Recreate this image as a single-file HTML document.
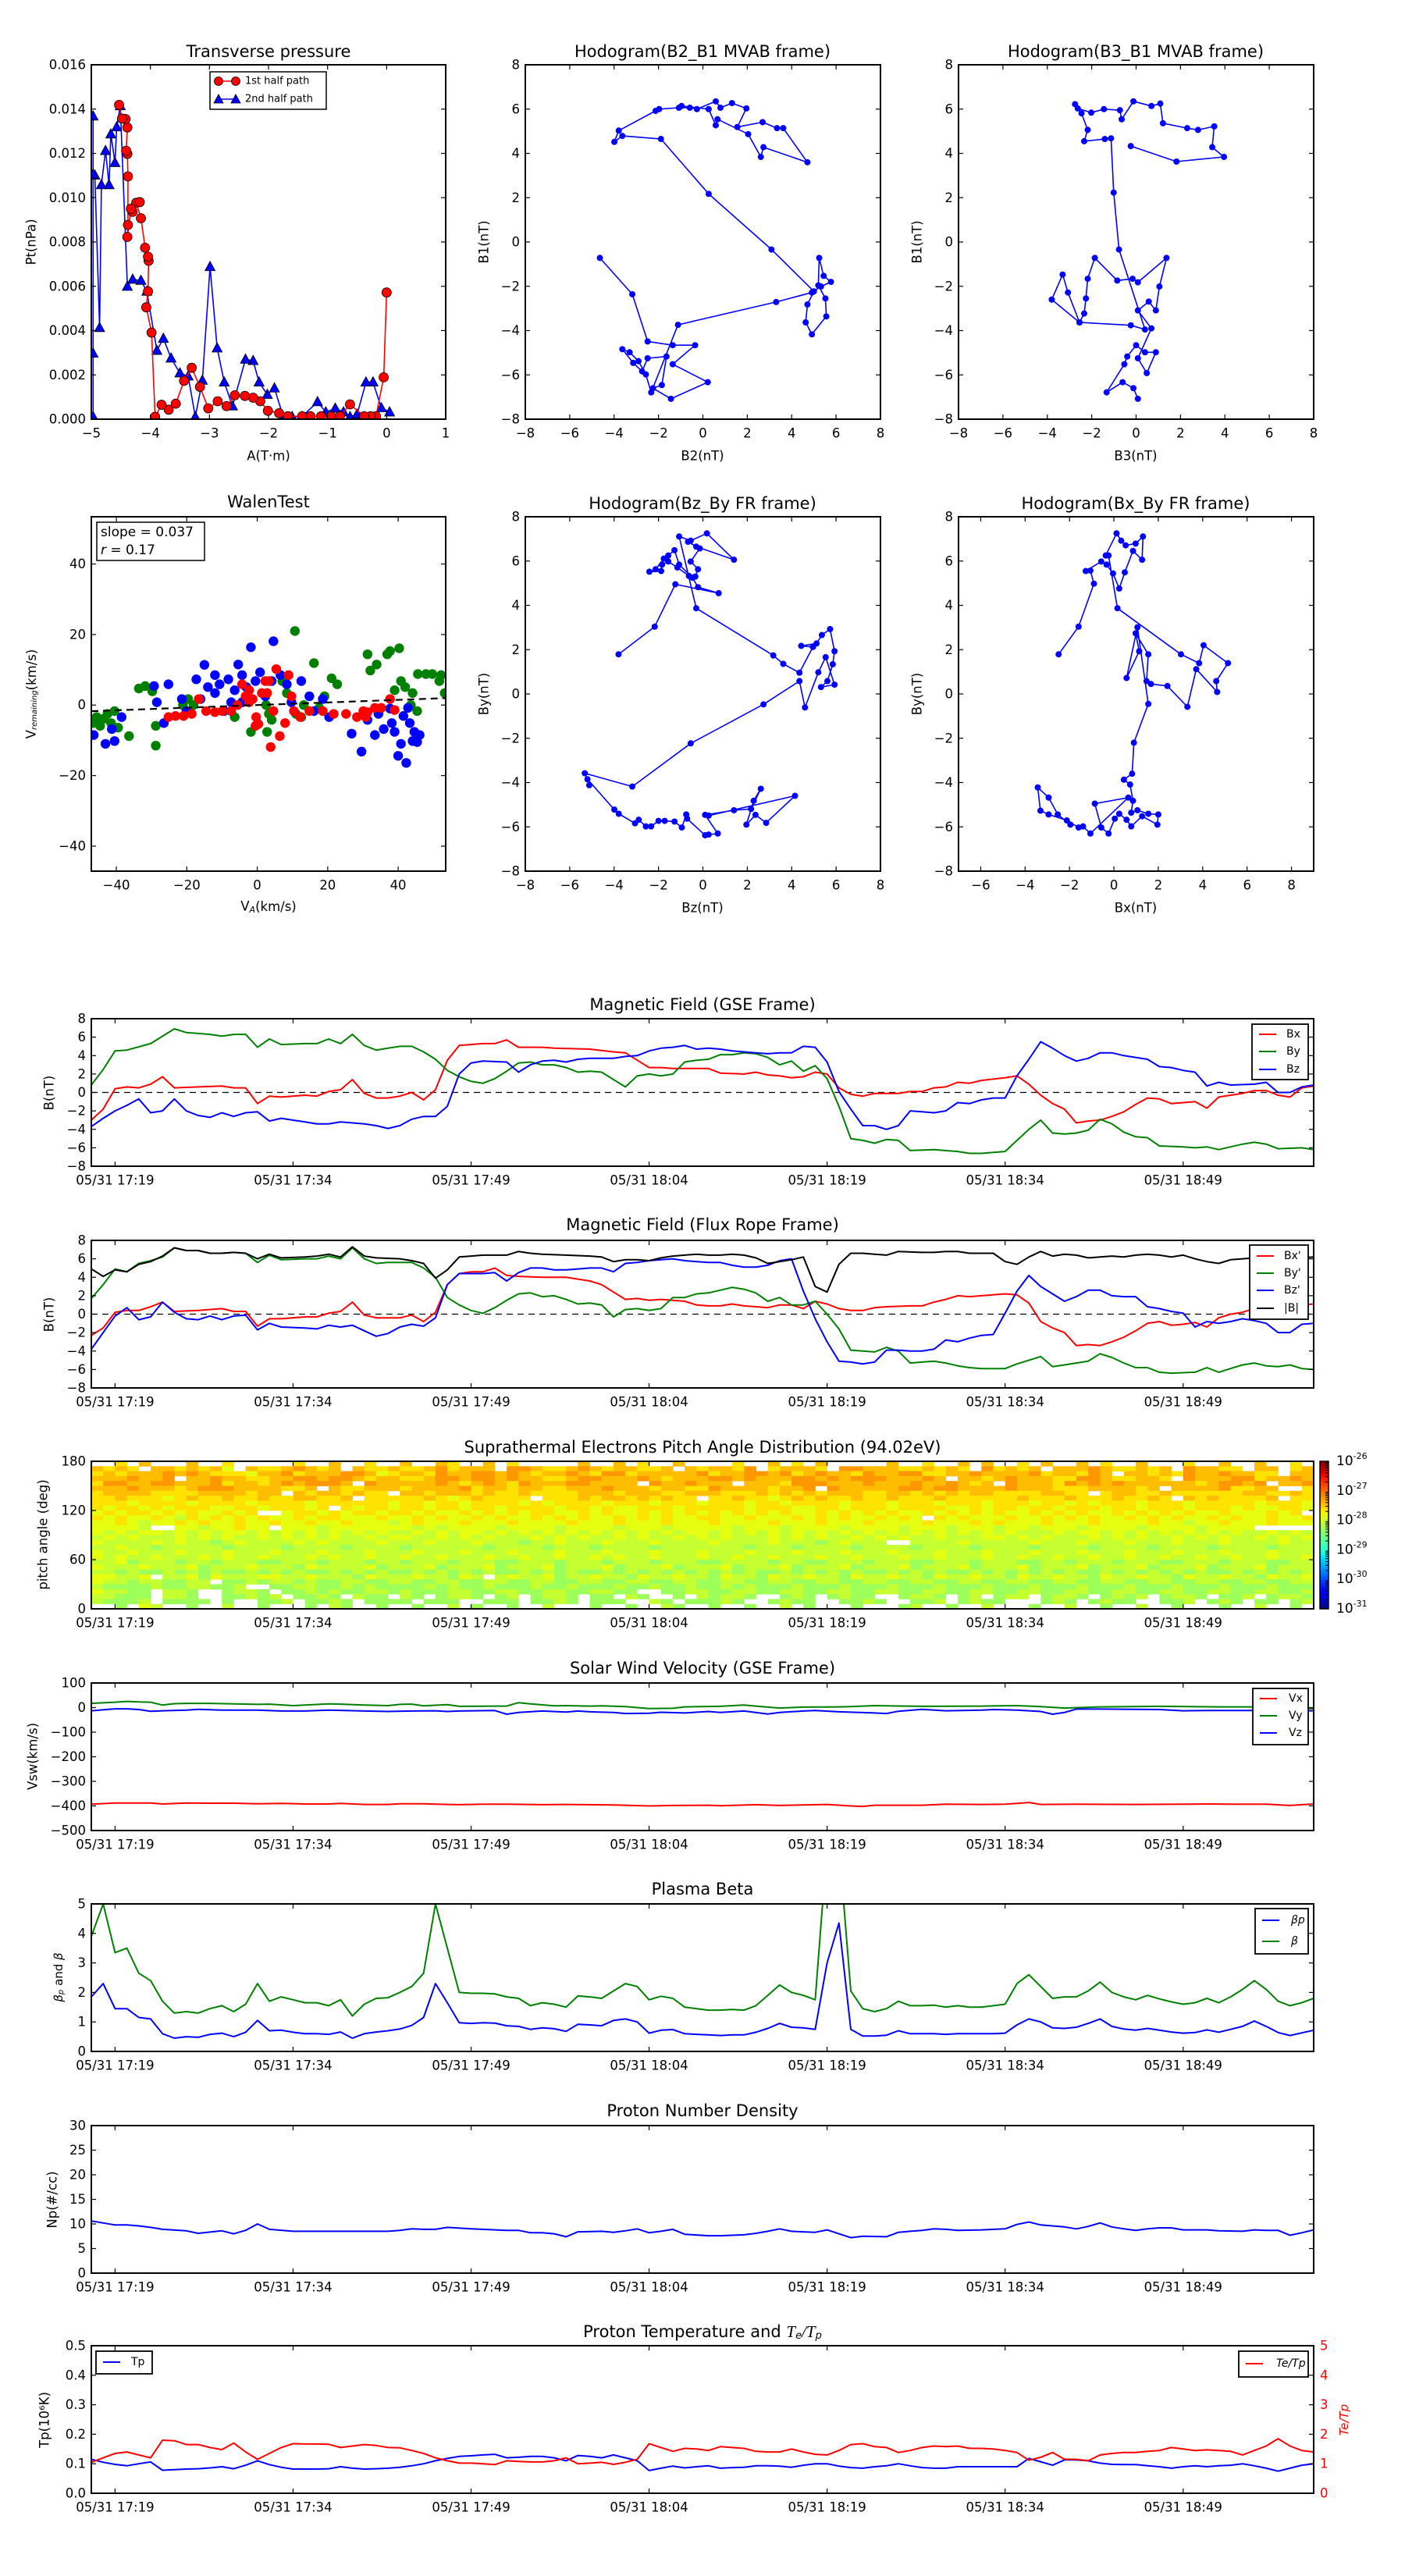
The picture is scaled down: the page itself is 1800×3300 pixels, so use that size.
<!DOCTYPE html>
<html><head><meta charset="utf-8"><title>Flux rope analysis</title>
<style>
html,body{margin:0;padding:0;background:#fff;}
svg{display:block;font-family:"DejaVu Sans","Liberation Sans",sans-serif;}
</style></head>
<body>
<svg id="fig" xmlns="http://www.w3.org/2000/svg" width="1800" height="3300" viewBox="0 0 1800 3300"><rect x="0" y="0" width="1800" height="3300" fill="#fff"/></svg>
<script>
// ================= DATA =================
const ptRedA=[0.0,-0.05,-0.18,-0.27,-0.38,-0.62,-0.79,-0.94,-1.11,-1.29,-1.43,-1.67,-1.82,-2.01,-2.14,-2.26,-2.40,-2.57,-2.71,-2.86,-3.02,-3.16,-3.30,-3.43,-3.57,-3.69,-3.81,-3.92,-3.98,-4.07,-4.04,-4.03,-4.04,-4.09,-4.16,-4.24,-4.18,-4.30,-4.33,-4.39,-4.38,-4.38,-4.39,-4.41,-4.39,-4.42,-4.48,-4.53];
const ptRedP=[5.72,1.89,0.13,0.13,0.13,0.67,0.13,0.13,0.13,0.13,0.13,0.13,0.27,0.38,0.81,0.97,1.05,1.08,0.59,0.81,0.49,1.46,2.32,1.73,0.70,0.43,0.65,0.11,3.91,5.05,5.77,7.15,7.34,7.74,9.07,9.77,9.80,9.36,9.50,8.23,8.77,10.96,11.98,12.12,13.17,13.55,13.57,14.19];
const ptBlueA=[0.05,-0.09,-0.23,-0.35,-0.50,-0.62,-0.73,-0.87,-1.03,-1.17,-1.44,-1.60,-1.75,-1.90,-2.02,-2.16,-2.26,-2.39,-2.61,-2.75,-2.87,-2.99,-3.12,-3.24,-3.36,-3.50,-3.65,-3.78,-3.89,-4.06,-4.16,-4.30,-4.39,-4.51,-4.57,-4.60,-4.67,-4.70,-4.76,-4.83,-4.86,-4.94,-4.97,-4.97,-4.97,-4.97];
const ptBlueP=[0.32,0.51,1.67,1.67,0.22,0.11,0.32,0.49,0.32,0.78,0.11,0.11,0.11,1.40,1.11,1.67,2.64,2.70,0.59,1.67,3.21,6.88,1.75,0.11,1.94,2.08,2.75,3.64,3.10,5.77,6.26,6.31,5.99,14.14,13.19,11.58,12.87,10.58,12.12,10.58,4.13,11.01,11.06,13.68,2.97,0.11];
const h1x=[-4.64,-3.18,-2.49,-1.36,-0.35,-1.36,0.22,-1.44,-2.25,-1.85,-1.64,-2.49,-2.74,-3.14,-3.63,-3.30,-2.90,-2.57,-2.33,-1.12,3.30,4.91,5.32,5.77,5.44,5.24,5.20,5.52,5.56,4.91,4.63,4.71,5.00,3.09,0.26,-1.89,-3.63,-3.99,-3.79,-2.13,-1.97,-1.08,-0.59,-0.27,0.58,0.79,1.31,1.96,1.55,2.69,3.34,3.62,4.71,2.73,2.61,2.04,0.66,0.58,0.26,-0.96];
const h1y=[-0.72,-2.36,-4.49,-4.66,-4.66,-5.52,-6.33,-7.08,-6.60,-6.46,-5.17,-5.25,-5.84,-5.46,-4.84,-4.98,-5.38,-5.98,-6.79,-3.74,-2.71,-2.28,-2.01,-1.80,-1.53,-0.72,-1.96,-2.55,-3.36,-4.17,-3.63,-2.82,-2.23,-0.34,2.17,4.65,4.79,4.52,5.03,5.92,6.00,6.06,6.06,6.00,6.35,6.06,6.27,6.03,5.19,5.41,5.14,5.14,3.60,4.28,3.84,4.87,5.54,5.27,6.00,6.14];
const h2x=[0.08,-0.12,-0.61,-1.33,-0.53,-0.40,0,0.40,0.89,0.48,0.08,0.69,0.08,0.57,0.89,1.05,1.37,0.08,-0.16,-0.85,-1.86,-2.18,-2.26,-2.34,-2.55,-3.07,-3.31,-3.80,-2.55,-0.24,0.40,-0.77,-1.01,-1.13,-1.41,-2.34,-2.18,-2.46,-2.75,-2.63,-2.02,-1.45,-0.73,-0.65,-0.12,0.69,1.09,1.21,2.30,2.79,3.52,3.43,3.96,1.82,-0.24];
const h2y=[-7.08,-6.60,-6.33,-6.79,-5.52,-5.17,-4.66,-4.98,-4.98,-5.92,-5.25,-3.90,-3.09,-2.69,-3.09,-2.01,-0.72,-1.82,-1.66,-1.74,-0.72,-1.66,-2.55,-3.23,-3.63,-2.28,-1.47,-2.60,-3.63,-3.76,-3.95,-0.34,2.23,4.68,4.65,4.55,5.06,5.81,6.22,6.03,5.84,6.00,5.95,5.54,6.35,6.14,6.25,5.36,5.14,5.06,5.22,4.28,3.84,3.63,4.33];
const walenGreenX=[-46.6,-45.6,-44.6,-43.6,-42.5,-41.5,-40.5,-39.5,-36.4,-33.6,-31.8,-29.8,-28.8,-28.8,-21.1,-19.6,-18.1,-6.4,-1.8,2.8,4.1,7.1,8.4,11.0,12.5,16.1,17.6,19.1,21.1,22.7,31.3,32.1,33.9,36.9,37.7,40.3,39.0,40.8,42.0,44.1,45.4,45.6,47.9,49.7,51.7,52.2,53.2,43.6,10.7,3.3,13.2,2.5];
const walenGreenY=[-5.1,-3.4,-5.9,-3.9,-2.5,-5.1,-1.7,-6.4,-8.8,4.7,5.4,3.9,-5.9,-11.5,0,1.7,0,-3.4,-7.6,-7.6,-4.2,6.8,3.4,-2.5,-3.4,11.9,-0.8,2.5,7.6,5.9,14.4,9.8,11.5,14.4,15.3,16.1,4.2,6.8,5.1,3.4,-1.7,8.8,8.8,8.8,6.8,8.5,3.4,0,21.0,-2.5,0,0];
const walenBlueX=[-46.4,-43.1,-41.3,-40.5,-38.5,-29.3,-28.5,-26.5,-25.2,-21.4,-20.1,-17.3,-16.1,-15.0,-14.0,-12.0,-12.0,-10.7,-8.2,-7.4,-5.4,-4.3,-3.1,-1.8,-0.5,0.8,2.3,4.1,4.6,6.6,8.4,9.7,12.5,14.8,16.1,18.6,20.4,26.8,29.6,31.3,33.4,34.4,35.9,37.7,38.2,39.0,40.0,40.8,42.3,43.3,44.1,44.6,45.4,46.1,42.8,41.5,-6.4,-9.4,-4.3];
const walenBlueY=[-8.5,-11.0,-6.8,-10.2,-3.4,5.4,0.8,-5.1,5.9,1.7,-1.7,7.3,1.7,11.4,5.1,8.5,3.4,5.9,7.3,0.8,11.5,8.5,5.1,16.4,6.8,9.3,2.5,6.8,18.1,8.5,5.9,0.8,6.8,2.5,-1.7,1.7,-3.4,-8.1,-13.2,-4.2,-8.5,-2.5,-6.8,-1.0,-5.1,-7.6,-14.4,-11.0,-16.4,-5.1,-10.2,-7.6,-10.5,-8.5,-0.8,-3.1,4.2,-1.7,0.8];
const walenRedX=[-25.2,-23.2,-20.9,-18.6,-16.6,-14.5,-12.0,-9.9,-7.4,-5.6,-4.3,-3.3,-2.3,-1.3,-0.3,0.3,1.3,2.3,3.3,3.8,4.6,5.4,6.4,7.9,8.9,9.7,10.4,12.2,14.8,18.6,21.7,25.2,28.3,30.1,30.8,31.3,33.4,35.2,37.7,39.0,2.8,-2.3,-0.5];
const walenRedY=[-3.4,-3.1,-3.1,-2.5,1.7,-1.7,-2.0,-1.7,-1.7,0,5.9,2.5,0.8,1.7,-3.4,-5.4,3.4,6.8,6.8,-11.9,-1.7,10.2,-8.8,-5.1,8.5,2.5,-1.7,-3.4,-1.7,-1.7,-2.5,-2.5,-3.4,-1.7,-3.4,-2.0,-0.8,-0.8,1.7,-1.4,3.4,4.2,-5.9];
const walenSlope=0.037;
const h3x=[-3.80,-2.17,-1.24,0.71,-0.22,-0.47,-1.07,-1.28,-1.56,-1.76,-2.13,-2.41,-1.88,-1.84,-1.56,-1.15,-0.63,-0.34,-0.22,-0.55,-0.14,-0.67,-0.30,1.40,0.18,-0.55,-1.07,-0.30,3.17,3.62,4.35,4.96,4.43,5.12,5.36,5.73,5.93,5.85,5.61,5.32,5.93,5.53,5.20,4.60,4.35,2.73,-0.55,-3.18,-5.32,-5.12,-5.20,-3.99,-3.79,-3.06,-2.89,-2.57,-2.33,-2.00,-1.72,-1.28,-0.95,-0.75,-0.71,0.10,0.26,0.67,0.10,1.40,2.17,2.61,2.29,1.96,2.37,2.85,4.15,0.26];
const h3y=[1.79,3.04,4.95,4.55,4.82,5.25,5.84,6.49,6.25,6.11,5.63,5.52,5.55,5.84,5.98,5.71,5.33,5.30,5.63,5.98,6.57,6.87,6.65,6.06,7.25,6.92,7.11,3.87,1.74,1.36,0.96,2.12,2.17,2.28,2.66,2.93,1.93,1.34,0.58,0.31,0.42,1.66,0.98,-0.61,0.58,-0.47,-2.23,-4.18,-3.58,-4.12,-3.85,-5.22,-5.41,-5.84,-5.68,-5.98,-5.98,-5.73,-5.73,-5.76,-6.03,-5.44,-5.63,-6.38,-6.35,-6.30,-5.46,-5.25,-5.19,-4.28,-4.82,-5.90,-5.46,-5.82,-4.60,-5.49];
const h4x=[-2.49,-1.59,-0.90,-1.06,-1.27,-0.57,-0.33,-0.04,0.24,0.49,0.86,1.27,1.31,0.98,0.53,0.33,0.12,-0.37,-0.24,0.16,3.02,3.84,4.04,5.14,4.61,4.65,3.71,3.31,2.41,1.67,1.47,1.55,0.98,1.14,0.57,1.06,1.55,0.90,0.82,0.45,0.73,0.86,0.78,1.06,1.55,2.00,1.96,1.27,0.78,0.57,0.24,0.04,-0.24,-0.57,-0.86,0.65,-1.06,-1.39,-1.59,-2.12,-2.94,-3.31,-3.43,-2.94,-2.53,-1.96];
const h4y=[1.79,3.04,4.98,5.57,5.55,5.98,5.84,5.44,4.76,5.49,6.46,6.06,7.11,6.79,6.71,6.92,7.25,6.25,6.25,3.87,1.79,1.39,2.20,1.39,0.58,0.09,1.12,-0.58,0.36,0.45,0.58,1.79,2.74,1.93,0.72,3.01,-0.45,-2.20,-3.60,-3.87,-4.09,-4.82,-5.36,-5.25,-5.41,-5.44,-5.90,-5.52,-5.98,-5.68,-5.41,-5.63,-6.30,-6.03,-4.95,-4.68,-6.30,-5.98,-6.03,-5.71,-5.44,-5.27,-4.22,-4.68,-5.44,-5.90];

const timeTickMinutes=[2,17,32,47,62,77,92];
const timeTickLabels=["05/31 17:19","05/31 17:34","05/31 17:49","05/31 18:04","05/31 18:19","05/31 18:34","05/31 18:49"];
const gseBxT=[0,1,2,3,4,5,6,7,9,11,12,13,14,15,16,18,19,20,21,22,23,24,25,26,27,28,29,30,31,33,34,35,36,38,39,42,44,45,46,47,48,49,52,53,55,56,57,58,59,60,61,62,63,64,65,66,68,69,70,71,72,73,74,75,77,78,79,80,81,82,83,84,85,86,87,88,89,90,91,92,93,94,95,96,97,98,99,100,101,102,103];
const gseBx=[-3.0,-1.8,0.4,0.6,0.5,0.9,1.7,0.5,0.6,0.7,0.5,0.5,-1.2,-0.4,-0.5,-0.3,-0.4,0.1,0.3,1.4,-0.1,-0.6,-0.6,-0.4,0,-0.8,0.3,3.5,5.1,5.3,5.3,5.7,4.9,4.9,4.8,4.7,4.4,4.3,3.5,2.7,2.7,2.6,2.6,2.1,2.0,2.2,1.9,1.8,1.6,1.7,2.2,2.0,0.5,-0.2,-0.4,-0.1,-0.1,0.1,0.1,0.5,0.6,1.1,1.0,1.3,1.6,1.8,0.9,-0.3,-1.2,-1.8,-3.3,-3.1,-3.0,-2.6,-2.1,-1.3,-0.6,-0.7,-1.2,-1.1,-1.0,-1.7,-0.5,-0.3,-0.1,0.2,0.2,-0.3,-0.5,0.5,0.7];
const gseByT=[0,1,2,3,5,7,8,10,11,12,13,14,15,16,18,19,20,21,22,23,24,25,26,27,28,29,30,31,32,33,34,35,36,37,38,39,40,41,42,43,44,45,46,47,48,49,50,51,52,53,54,55,56,57,58,59,60,61,62,63,64,65,66,67,68,69,71,73,74,75,77,78,79,80,81,82,83,84,85,86,87,88,89,90,92,93,94,95,96,97,98,99,100,102,103];
const gseBy=[0.8,2.5,4.5,4.6,5.3,6.9,6.5,6.3,6.1,6.3,6.3,4.9,5.8,5.2,5.3,5.3,5.8,5.3,6.3,5.1,4.6,4.8,5.0,5.0,4.4,3.6,2.4,1.7,1.2,1.0,1.5,2.3,3.2,3.3,3.0,3.0,2.7,2.2,2.3,2.2,1.4,0.6,1.8,2.0,1.8,2.0,3.3,3.5,3.6,4.1,4.1,4.3,4.2,3.8,3.0,3.4,2.3,2.9,1.5,-1.5,-5.0,-5.2,-5.5,-5.1,-5.2,-6.3,-6.2,-6.4,-6.6,-6.6,-6.4,-5.2,-4.0,-3.0,-4.4,-4.5,-4.4,-4.1,-2.9,-3.4,-4.3,-4.8,-4.9,-5.8,-5.9,-6.0,-5.9,-6.2,-5.9,-5.6,-5.4,-5.6,-6.1,-6.0,-6.2];
const gseBzT=[0,1,2,3,4,5,6,7,8,9,10,11,12,13,14,15,16,18,19,20,21,23,24,25,26,27,28,29,30,31,32,33,35,36,37,38,39,40,41,42,44,45,46,47,48,49,50,51,52,53,54,55,56,57,58,59,60,61,62,63,64,65,66,67,68,69,70,71,72,73,74,75,76,77,78,79,80,81,82,83,84,85,86,87,88,89,90,91,92,93,94,95,96,98,99,100,101,102,103];
const gseBz=[-3.7,-2.8,-2.0,-1.4,-0.7,-2.2,-2.0,-0.7,-2.0,-2.5,-2.7,-2.2,-2.6,-2.2,-2.1,-3.1,-2.8,-3.2,-3.4,-3.4,-3.2,-3.4,-3.6,-3.9,-3.6,-2.9,-2.6,-2.6,-1.5,2.0,3.2,3.4,3.3,2.2,3.0,3.4,3.5,3.3,3.6,3.7,3.7,3.9,4.0,4.5,4.8,4.9,5.1,4.7,4.8,4.7,4.5,4.4,4.3,4.2,4.3,4.3,5.0,4.9,3.3,0.1,-1.8,-3.6,-3.6,-4.0,-3.6,-2.0,-2.1,-2.2,-2.0,-1.1,-1.2,-0.8,-0.6,-0.6,1.8,3.6,5.5,4.8,4.0,3.4,3.7,4.3,4.3,4.0,3.8,3.6,2.8,2.7,2.4,2.2,0.7,1.1,0.8,0.9,1.1,0,0,0.6,0.8];
const frBxT=[0,1,2,3,4,5,6,7,9,11,12,13,14,15,16,18,19,20,21,22,23,24,25,26,27,28,29,30,31,32,33,34,35,36,38,40,41,42,43,44,45,46,47,48,49,50,51,52,53,54,55,56,57,58,59,60,61,62,63,64,65,66,67,69,70,71,72,73,74,75,77,78,79,80,81,82,83,84,85,86,87,88,89,90,91,92,93,94,95,96,97,98,99,100,101,102,103];
const frBx=[-2.3,-1.5,0.2,0.4,0.4,0.8,1.3,0.3,0.4,0.6,0.3,0.3,-1.3,-0.5,-0.5,-0.3,-0.3,0.1,0.3,1.3,-0.1,-0.4,-0.4,-0.4,-0.1,-0.8,0.2,3.2,4.4,4.6,4.6,5.0,4.2,4.1,4.0,4.0,3.8,3.6,3.2,2.4,1.6,1.7,1.5,1.6,1.5,1.4,1.0,0.9,0.9,1.1,0.9,0.8,0.7,1.0,1.0,0.6,1.4,1.1,0.6,0.4,0.4,0.7,0.8,0.9,0.9,1.3,1.6,2.0,1.9,2.0,2.2,2.1,1.2,-0.8,-1.5,-2.0,-3.4,-3.3,-3.4,-3.0,-2.5,-1.8,-1.0,-0.8,-1.2,-1.1,-0.9,-1.4,-0.4,0,0.2,0.6,0.6,0.5,0.6,1.0,1.1];
const frByT=[0,1,2,3,4,5,6,7,8,9,10,11,12,13,14,15,16,18,19,20,21,22,23,24,25,27,28,29,30,31,32,33,34,35,36,37,38,39,40,41,42,43,44,45,46,47,48,49,50,51,52,53,54,55,56,57,58,59,60,61,62,63,64,65,66,67,68,69,70,71,72,73,74,75,77,78,79,80,81,82,83,84,85,86,87,88,89,90,91,93,94,95,96,97,98,99,100,101,102,103];
const frBy=[1.7,3.2,4.9,4.6,5.5,5.8,6.2,7.2,6.9,6.9,6.6,6.6,6.7,6.6,5.6,6.4,5.9,6.0,6.0,6.3,6.0,7.2,6.0,5.5,5.6,5.6,5.0,4.0,1.8,1.0,0.4,0.1,0.7,1.5,2.2,2.3,1.9,2.0,1.6,1.1,1.2,1.0,-0.3,0.5,0.6,0.4,0.6,1.8,1.8,2.2,2.3,2.6,2.9,2.7,2.3,1.4,1.8,1.0,1.0,1.4,0,-1.6,-3.9,-4.0,-4.1,-3.6,-4.0,-5.3,-5.2,-5.1,-5.3,-5.6,-5.8,-5.9,-5.9,-5.4,-5.0,-4.6,-5.7,-5.5,-5.3,-5.1,-4.3,-4.7,-5.3,-5.8,-5.8,-6.3,-6.4,-6.3,-5.8,-6.3,-5.9,-5.5,-5.3,-5.6,-5.7,-5.5,-5.9,-6.0];
const frBzT=[0,1,2,3,4,5,6,7,8,9,10,11,12,13,14,15,16,18,19,20,21,22,23,24,25,26,27,28,29,30,31,32,33,34,35,36,37,38,39,40,41,42,43,44,45,46,47,48,49,50,51,52,53,54,55,56,57,58,59,60,61,62,63,64,65,66,67,68,69,70,71,72,73,74,75,76,77,78,79,80,81,82,83,84,85,86,87,88,89,90,91,92,93,94,95,96,97,98,99,100,101,102,103];
const frBz=[-3.8,-2.0,-0.2,0.7,-0.6,-0.3,1.3,0.2,-0.5,-0.6,-0.2,-0.6,-0.2,-0.1,-1.7,-1.0,-1.4,-1.5,-1.6,-1.2,-1.4,-1.2,-1.8,-2.4,-2.1,-1.4,-1.1,-1.3,-0.4,3.2,4.4,4.4,4.4,4.5,3.6,4.5,5.0,5.0,4.8,4.8,4.9,5.0,5.0,4.6,5.5,5.6,5.8,5.9,6.0,5.8,5.7,5.6,5.6,5.3,5.1,5.1,5.3,5.8,6.0,2.5,-0.5,-3.0,-5.1,-5.2,-5.4,-5.2,-3.9,-3.9,-4.0,-4.0,-3.8,-2.8,-3.0,-2.6,-2.3,-2.2,0.1,2.5,4.2,3.0,2.2,1.4,1.9,2.6,2.6,2.0,1.9,1.9,0.8,0.6,0.3,0.1,-1.4,-0.8,-1.0,-0.8,-0.5,-0.7,-1.0,-2.0,-2.0,-1.1,-1.0];
const frBmagT=[0,1,2,3,4,5,6,7,8,9,10,11,12,13,14,15,16,18,19,20,21,22,23,24,26,27,28,29,30,31,32,33,34,35,36,37,38,40,42,43,44,45,46,47,48,49,50,51,52,53,54,55,56,57,58,59,60,61,62,63,64,65,66,67,68,70,71,72,73,74,75,76,77,78,79,80,81,82,83,84,85,86,87,88,89,90,91,92,93,94,95,96,97,98,99,100,101,102,103];
const frBmag=[4.9,4.1,4.8,4.6,5.4,5.7,6.3,7.2,6.9,6.9,6.6,6.6,6.7,6.6,6.0,6.5,6.1,6.2,6.3,6.5,6.2,7.3,6.3,6.1,6.0,5.8,5.5,3.9,4.8,6.2,6.3,6.4,6.4,6.4,6.8,6.6,6.5,6.4,6.3,6.2,5.7,5.9,5.9,5.8,6.1,6.3,6.4,6.5,6.4,6.4,6.5,6.4,6.1,5.5,5.7,5.9,6.2,3.0,2.4,5.4,6.6,6.6,6.5,6.4,6.8,6.7,6.7,6.8,6.8,6.6,6.6,6.6,5.7,5.4,6.2,6.8,6.3,6.5,6.4,6.1,6.2,6.3,6.2,6.4,6.5,6.4,6.2,6.4,6.0,5.7,5.5,5.9,6.0,6.1,6.0,6.1,6.2,6.1,6.2];
const padRows=[
"..4.3...3..4.....4..3..4..3..34..3.4.....3..3.4..3....4..3.4.3.....3..4..3.3..4.3..3.4..3...4..3..3..4..",
"3434.3343435.34432343.344344324333.22344323433443.343342.43334.22333443434.24343.3332344343.23344.33.434",
"43433323234445332433322354334233223234332342243333324332232432334233224433233332433423.3343423323344.334",
"3332332.3323344332232234334432232232334432233323433322323332232322233323.334323334422344334.23332243323",
"4223322333243343232223.23333323432342333223333.2332333.333422233323332332343.2333423232333333432232.3322",
"3332333432223333443.34433343333243343344333233343344233334332.2333332232233332333444333343.333324433..43",
"4333344443333433.34334344.3343334344344443334333443334443434343334433434343344443344.4334434444443344344",
"4434445434434434433443.44444345434444.4443433434344.443445434344344344434444443444344434434.34344443.444",
"4445444454444544445444444544544544445454444544454445444544544445444544454445444544545444544454444454445",
"45445454445544544454.4544544544544544445445455444544444544455445444544445545445445444544544454445455445",
"54544545455454..54454544544545545454544554545545454545454545545454545545454545545454554545454554555454",
"4545545645454545545445554554545545455454545545454554455455545454554545.454555455454545545454554545545545",
"5545655454554554554554555654555455545555455545554555455554555455545555455545455545554555545565545554555",
"55556..55655455.5556555555565655556555565555655565555565556555565555655565556556555655556555565555",
"5656556565655656565656565665656556565656565656565655656565656565656565656565656665655656565656565665656556",
"6565666565656656565656656556656565666565656656566565656665656566565656656665565656665656566565656656565656",
"5666656566765666656566665666566656667665666566656666566665666765666..666656666656665666566656665666656666566656",
"6656676666676666766667666676666667666676667666676666666766676666766667666676666766667666676666766667666676667",
"5665666566656665666566656665666566656665666566656665666566656665666566656665666566656665666566656665666566656",
"5656656665656656665656656656656665665665665656656665665665666566566656656665665665665665665665665665665665665",
"66576667667666776667666766766676667766676667666766677666676677666766677666766677667666766677666766677666766667",
"5666566657666566675666657666576665766657666576665766657666576665766657666576665766657666576665766657666576665",
"6676776767677676767767676776767676776767677676767676767677676767677676767767676767677676767676776767676776767677",
"55665.665756665566566675666566756.6566576656675665667566756656675665667566566756656675665667566566756656698",
"5667667766.7767667677667766776677667766776677667766776677667766776677667766776677667766776677667766776677667766",
"6777767766776..77667767677776767767776776777677677677676777677767776777677767776777677767776777677767776777",
"56677.667..7667.776767766767776677667766776677..776677667766776677667766776677667766776677667766776677667766",
"66777.667..77676.7767.677.67.7667.76.7667.77.67..7.67667..767.7677..7667.76.766.7667.7676.7667.776.7667.",
"67776.7777.7..776.7767.7777.777..777.7767.777..67.77767..7677..7767..776.7677...767.7677..776.767.77.767",
"..7.56..7..6..7...7.67..7..7..6.7..7..6...7..7..67..7..7..6.7...7...76..7..6...7..6..7..6..7...7..6..7.."
];
const padLevelLog=[-26.8,-27.0,-27.25,-27.45,-27.65,-27.85,-28.05,-28.3,-28.6,-29.4];
const cbarTickLabels=["-26","-27","-28","-29","-30","-31"];
const vxT=[0,2,5,6,8,10,12,14,16,18,20,21,23,25,26,28,30,31,33,35,38,40,44,47,49,52,53,56,58,62,64,65,66,70,72,75,77,78,79,80,83,88,92,94,96,99,101,103];
const vx=[-393,-388,-388,-392,-388,-389,-389,-391,-390,-392,-392,-390,-394,-394,-391,-391,-394,-395,-393,-393,-395,-394,-396,-400,-398,-397,-399,-395,-398,-394,-400,-402,-397,-397,-393,-394,-393,-390,-386,-394,-393,-394,-393,-392,-393,-393,-398,-392];
const vyT=[0,2,3,4,5,6,7,8,10,12,14,15,17,18,20,21,23,25,26,27,28,30,31,35,36,37,39,40,42,43,45,47,49,50,53,55,56,58,60,63,64,66,70,75,78,80,82,85,90,95,100,103];
const vy=[17,22,25,23,22,10,16,17,17,15,13,14,8,10,15,14,10,8,13,14,7,12,5,6,20,15,7,8,6,7,4,-4,-3,3,5,10,6,-2,2,3,4,8,5,6,8,4,-2,3,5,3,3,-5];
const vzT=[0,2,3,4,5,6,8,9,11,14,16,18,20,23,25,27,29,30,31,34,35,36,38,40,41,42,44,45,47,48,50,52,53,55,57,58,60,61,63,66,67,68,70,72,75,76,78,80,81,82,83,85,90,92,94,98,100,103];
const vz=[-13,-5,-5,-8,-15,-13,-10,-7,-10,-10,-14,-14,-10,-14,-16,-14,-13,-16,-14,-12,-27,-20,-14,-18,-14,-17,-20,-24,-23,-19,-22,-16,-20,-14,-26,-20,-14,-12,-17,-22,-24,-15,-7,-13,-10,-8,-10,-16,-27,-20,-6,-6,-8,-13,-12,-12,-14,-13];
const betaTotal=[3.9,5.0,3.35,3.5,2.65,2.4,1.7,1.3,1.35,1.3,1.45,1.55,1.35,1.6,2.3,1.7,1.85,1.75,1.65,1.65,1.55,1.75,1.2,1.6,1.8,1.82,2.0,2.2,2.65,5.0,3.5,2.0,1.97,1.97,1.95,1.85,1.8,1.55,1.65,1.6,1.5,1.88,1.85,1.8,2.05,2.3,2.2,1.75,1.87,1.8,1.5,1.45,1.4,1.4,1.42,1.4,1.55,1.9,2.25,2.0,1.9,1.75,7.0,7.0,2.05,1.45,1.35,1.45,1.7,1.55,1.55,1.57,1.5,1.55,1.5,1.5,1.55,1.6,2.3,2.6,2.2,1.8,1.85,1.85,2.05,2.35,2.0,1.85,1.75,1.9,1.78,1.68,1.6,1.65,1.8,1.65,1.85,2.1,2.4,2.1,1.7,1.55,1.65,1.8];
const betaProton=[1.85,2.3,1.45,1.45,1.15,1.1,0.6,0.45,0.5,0.48,0.58,0.62,0.5,0.65,1.05,0.7,0.72,0.65,0.6,0.6,0.58,0.66,0.45,0.6,0.66,0.7,0.76,0.88,1.15,2.3,1.65,0.97,0.95,0.97,0.96,0.87,0.85,0.75,0.8,0.77,0.68,0.92,0.9,0.87,1.05,1.1,1.0,0.62,0.72,0.74,0.6,0.58,0.56,0.54,0.56,0.56,0.65,0.78,0.95,0.82,0.8,0.75,3.0,4.35,0.75,0.52,0.52,0.55,0.7,0.6,0.6,0.6,0.58,0.6,0.6,0.6,0.6,0.62,0.9,1.1,1.0,0.8,0.78,0.82,0.95,1.1,0.85,0.76,0.72,0.78,0.72,0.66,0.62,0.64,0.73,0.65,0.75,0.85,1.03,0.85,0.64,0.54,0.63,0.72];
const npT=[0,2,3,4,5,6,8,9,11,12,13,14,15,17,19,21,25,26,27,28,29,30,32,35,36,37,38,39,40,41,43,44,45,46,47,48,49,50,52,53,55,56,57,58,59,60,61,62,63,64,65,67,68,69,70,71,72,73,75,77,78,79,80,81,82,83,84,85,86,87,88,89,90,91,92,94,95,97,98,99,100,101,102,103];
const np=[10.6,9.8,9.8,9.6,9.3,8.9,8.6,8.1,8.6,8.0,8.7,10.0,8.9,8.5,8.5,8.5,8.5,8.7,9.0,8.9,8.9,9.3,9.0,8.7,8.7,8.2,8.2,8.0,7.4,8.4,8.5,8.3,8.6,9.0,8.2,8.5,8.9,7.9,7.6,7.6,7.8,8.1,8.5,9.0,8.5,8.4,8.3,8.8,8.0,7.2,7.5,7.4,8.3,8.5,8.7,9.0,8.9,8.7,8.8,9.0,9.9,10.4,9.8,9.6,9.4,9.0,9.5,10.2,9.4,9.0,8.7,9.0,9.2,9.2,8.8,8.8,8.6,8.5,8.8,8.7,8.7,7.7,8.2,8.8];
const tp=[0.115,0.105,0.098,0.093,0.1,0.106,0.078,0.08,0.082,0.083,0.086,0.09,0.083,0.095,0.11,0.097,0.088,0.082,0.082,0.082,0.083,0.09,0.085,0.082,0.083,0.085,0.088,0.093,0.1,0.11,0.118,0.125,0.127,0.13,0.132,0.12,0.122,0.125,0.125,0.12,0.11,0.128,0.125,0.12,0.13,0.12,0.11,0.077,0.085,0.092,0.086,0.09,0.093,0.085,0.087,0.088,0.093,0.093,0.092,0.088,0.095,0.1,0.1,0.092,0.087,0.085,0.09,0.093,0.1,0.093,0.087,0.085,0.085,0.09,0.09,0.09,0.09,0.09,0.09,0.118,0.107,0.095,0.113,0.113,0.11,0.102,0.098,0.097,0.097,0.093,0.09,0.085,0.09,0.093,0.09,0.093,0.095,0.1,0.093,0.085,0.075,0.085,0.095,0.1];
const teTp=[1.05,1.2,1.35,1.4,1.3,1.2,1.8,1.78,1.65,1.65,1.55,1.48,1.7,1.4,1.15,1.35,1.55,1.68,1.67,1.67,1.66,1.55,1.6,1.65,1.62,1.55,1.54,1.45,1.35,1.2,1.1,1.02,1.02,1.0,0.97,1.1,1.08,1.06,1.06,1.1,1.2,1.0,1.02,1.05,0.98,1.05,1.15,1.68,1.55,1.42,1.52,1.5,1.45,1.58,1.55,1.52,1.42,1.4,1.4,1.5,1.4,1.32,1.3,1.45,1.65,1.68,1.58,1.55,1.38,1.45,1.55,1.6,1.58,1.6,1.52,1.52,1.5,1.45,1.38,1.12,1.22,1.38,1.15,1.15,1.1,1.3,1.35,1.38,1.38,1.42,1.45,1.55,1.5,1.45,1.47,1.45,1.42,1.3,1.45,1.6,1.85,1.6,1.45,1.4];

// ================= DRAWING =================
const NS='http://www.w3.org/2000/svg';
const svg=document.getElementById('fig');
const FONT=16.5;
let clipCount=0;
function mk(tag,attrs,name,parent){
  const el=document.createElementNS(NS,tag);
  for(const k in attrs) el.setAttribute(k,attrs[k]);
  
  
  (parent||svg).appendChild(el);
  return el;
}
function text(x,y,s,name,opt,parent){
  opt=opt||{};
  const el=mk('text',{x:x,y:y,'font-size':opt.size||FONT,'text-anchor':opt.anchor||'middle','dominant-baseline':'central',fill:opt.fill||'#000'},name,parent);
  if(opt.rot) el.setAttribute('transform','rotate('+opt.rot+' '+x+' '+y+')');
  if(opt.italic) el.setAttribute('font-style','italic');
  el.textContent=s;
  return el;
}
function fmtNum(v,d){ const s=Math.abs(v).toFixed(d); return (v<0?'\u2212':'')+s; }
function axes(o){
  const g=mk('g',{},o.name);
  const sx=v=>o.x+(v-o.xmin)/(o.xmax-o.xmin)*o.w;
  const sy=v=>o.y+o.h-(v-o.ymin)/(o.ymax-o.ymin)*o.h;
  const id='clip'+(clipCount++);
  const cp=mk('clipPath',{id:id},o.name+'-clip',g);
  mk('rect',{x:o.x,y:o.y,width:o.w,height:o.h},o.name+'-clip-rect',cp);
  const plot=mk('g',{'clip-path':'url(#'+id+')'},o.name+'-plot-area',g);
  return {o,g,plot,sx,sy};
}
function finishAxes(A,xt,xl,yt,yl,opt){
  opt=opt||{};
  const o=A.o, g=A.g;
  const tl=6;
  xt.forEach((v,i)=>{
    const x=A.sx(v);
    mk('line',{x1:x,x2:x,y1:o.y+o.h,y2:o.y+o.h-tl,stroke:'#000','stroke-width':1.2},'x-tick',g);
    mk('line',{x1:x,x2:x,y1:o.y,y2:o.y+tl,stroke:'#000','stroke-width':1.2},'x-tick-top',g);
    text(x,o.y+o.h+18,xl[i],'x-tick-label',{},g);
  });
  yt.forEach((v,i)=>{
    const y=A.sy(v);
    mk('line',{x1:o.x,x2:o.x+tl,y1:y,y2:y,stroke:'#000','stroke-width':1.2},'y-tick',g);
    if(!opt.noRightTicks) mk('line',{x1:o.x+o.w,x2:o.x+o.w-tl,y1:y,y2:y,stroke:'#000','stroke-width':1.2},'y-tick-right',g);
    text(o.x-7,y,yl[i],'y-tick-label',{anchor:'end'},g);
  });
  mk('rect',{x:o.x,y:o.y,width:o.w,height:o.h,fill:'none',stroke:'#000','stroke-width':2},'axes-frame',g);
}
function polyline(A,xs,ys,color,name,width,dash){
  const pts=xs.map((x,i)=>A.sx(x).toFixed(1)+','+A.sy(ys[i]).toFixed(1)).join(' ');
  const el=mk('polyline',{points:pts,fill:'none',stroke:color,'stroke-width':width||2,'stroke-linejoin':'round'},name,A.plot);
  if(dash) el.setAttribute('stroke-dasharray',dash);
  return el;
}
function range(a,b,s){const r=[];for(let v=a;v<=b+1e-9;v+=s)r.push(+v.toFixed(6));return r;}
function title(x,y,s,name){return text(x,y,s,name,{size:21});}

// ---------- Transverse pressure ----------
(function(){
  const A=axes({x:117,y:83,w:454,h:454,xmin:-5,xmax:1,ymin:0,ymax:16,name:'transverse-pressure-axes'});
  polyline(A,ptBlueA,ptBlueP,'#0000ff','second-half-path-line',1.6);
  ptBlueA.forEach((a,i)=>{
    const x=A.sx(a),y=A.sy(ptBlueP[i]);
    mk('polygon',{points:(x)+','+(y-7)+' '+(x-6.5)+','+(y+5)+' '+(x+6.5)+','+(y+5),fill:'#0000ff',stroke:'#000','stroke-width':0.8},'second-half-marker',A.plot);
  });
  polyline(A,ptRedA,ptRedP,'#ff0000','first-half-path-line',1.6);
  ptRedA.forEach((a,i)=>{
    mk('circle',{cx:A.sx(a),cy:A.sy(ptRedP[i]),r:6,fill:'#ff0000',stroke:'#000','stroke-width':0.8},'first-half-marker',A.plot);
  });
  const xt=range(-5,1,1), yt=range(0,16,2);
  finishAxes(A,xt,xt.map(v=>fmtNum(v,0)),yt,yt.map(v=>(v/1000).toFixed(3)));
  title(344,66,'Transverse pressure','transverse-pressure-title');
  text(344,584,'A(T\u00b7m)','x-axis-title');
  text(40,310,'Pt(nPa)','y-axis-title',{rot:-90});
  const lg=mk('g',{},'pressure-legend');
  mk('rect',{x:269,y:92,width:149,height:48,fill:'#fff',stroke:'#000','stroke-width':1.5},'legend-box',lg);
  mk('line',{x1:279,x2:303,y1:104,y2:104,stroke:'#ff0000','stroke-width':1.6},'legend-line-first',lg);
  mk('circle',{cx:280,cy:104,r:5.5,fill:'#ff0000',stroke:'#000','stroke-width':0.8},'legend-marker-first',lg);
  mk('circle',{cx:302,cy:104,r:5.5,fill:'#ff0000',stroke:'#000','stroke-width':0.8},'legend-marker-first',lg);
  text(314,104,'1st half path','legend-entry-first',{size:13,anchor:'start'},lg);
  mk('line',{x1:279,x2:303,y1:127,y2:127,stroke:'#0000ff','stroke-width':1.6},'legend-line-second',lg);
  [280,302].forEach(x=>mk('polygon',{points:x+',121 '+(x-6)+',132 '+(x+6)+',132',fill:'#0000ff',stroke:'#000','stroke-width':0.8},'legend-marker-second',lg));
  text(314,127,'2nd half path','legend-entry-second',{size:13,anchor:'start'},lg);
})();

// ---------- Hodograms ----------
function hodogram(x,y,xmin,xmax,xs,ys,ttl,xlab,ylab,name,xticks){
  const A=axes({x:x,y:y,w:455,h:454,xmin:xmin,xmax:xmax,ymin:-8,ymax:8,name:name});
  polyline(A,xs,ys,'#0000ff',name+'-path',1.6);
  xs.forEach((v,i)=>mk('circle',{cx:A.sx(v),cy:A.sy(ys[i]),r:4,fill:'#0000ff'},name+'-point',A.plot));
  const yt=range(-8,8,2);
  finishAxes(A,xticks,xticks.map(v=>fmtNum(v,0)),yt,yt.map(v=>fmtNum(v,0)));
  title(x+227,y-17,ttl,name+'-title');
  text(x+227,y+501,xlab,name+'-x-title');
  text(x-53,y+227,ylab,name+'-y-title',{rot:-90});
}
hodogram(673,83,-8,8,h1x,h1y,'Hodogram(B2_B1 MVAB frame)','B2(nT)','B1(nT)','hodogram-b2-b1',range(-8,8,2));
hodogram(1228,83,-8,8,h2x,h2y,'Hodogram(B3_B1 MVAB frame)','B3(nT)','B1(nT)','hodogram-b3-b1',range(-8,8,2));
hodogram(673,662,-8,8,h3x,h3y,'Hodogram(Bz_By FR frame)','Bz(nT)','By(nT)','hodogram-bz-by',range(-8,8,2));
hodogram(1228,662,-7,9,h4x,h4y,'Hodogram(Bx_By FR frame)','Bx(nT)','By(nT)','hodogram-bx-by',range(-6,8,2));

// ---------- Walen test ----------
(function(){
  const A=axes({x:117,y:662,w:454,h:454,xmin:-47.1,xmax:53.5,ymin:-47.1,ymax:53.4,name:'walen-test-axes'});
  walenGreenX.forEach((v,i)=>mk('circle',{cx:A.sx(v),cy:A.sy(walenGreenY[i]),r:6.2,fill:'#008000'},'walen-point-green',A.plot));
  walenBlueX.forEach((v,i)=>mk('circle',{cx:A.sx(v),cy:A.sy(walenBlueY[i]),r:6.2,fill:'#0000ff'},'walen-point-blue',A.plot));
  walenRedX.forEach((v,i)=>mk('circle',{cx:A.sx(v),cy:A.sy(walenRedY[i]),r:6.2,fill:'#ff0000'},'walen-point-red',A.plot));
  const lx=[-47.1,53.5];
  polyline(A,lx,lx.map(v=>walenSlope*v),'#000','walen-fit-line',2.2,'9,6');
  const t=[-40,-20,0,20,40];
  finishAxes(A,t,t.map(v=>fmtNum(v,0)),t,t.map(v=>fmtNum(v,0)));
  title(344,643,'WalenTest','walen-test-title');
  const xl=text(344,1161,'V','walen-x-title');
  const s1=document.createElementNS(NS,'tspan'); s1.setAttribute('font-size','11'); s1.setAttribute('font-style','italic'); s1.setAttribute('dy','4'); s1.textContent='A'; xl.appendChild(s1);
  const s2=document.createElementNS(NS,'tspan'); s2.setAttribute('dy','-4'); s2.textContent='(km/s)'; xl.appendChild(s2);
  const yl=text(40,889,'V','walen-y-title',{rot:-90});
  const s3=document.createElementNS(NS,'tspan'); s3.setAttribute('font-size','10'); s3.setAttribute('font-style','italic'); s3.setAttribute('dy','4'); s3.textContent='remaining'; yl.appendChild(s3);
  const s4=document.createElementNS(NS,'tspan'); s4.setAttribute('dy','-4'); s4.textContent='(km/s)'; yl.appendChild(s4);
  mk('rect',{x:124,y:669,width:138,height:49,fill:'#fff',stroke:'#000','stroke-width':1.5},'walen-stats-box');
  text(129,682,'slope = 0.037','walen-slope-text',{anchor:'start',size:17});
  const r=text(129,705,'','walen-r-text',{anchor:'start',size:17});
  const ri=document.createElementNS(NS,'tspan'); ri.setAttribute('font-style','italic'); ri.textContent='r'; r.appendChild(ri);
  const rv=document.createElementNS(NS,'tspan'); rv.textContent=' = 0.17'; r.appendChild(rv);
})();

// ---------- Time series helpers ----------
const TX=117, TW=1566, TMIN=0, TMAX=103;
function tsAxes(y,ymin,ymax,name){return axes({x:TX,y:y,w:TW,h:189,xmin:TMIN,xmax:TMAX,ymin:ymin,ymax:ymax,name:name});}
function legend(x,y,w,h,entries,name,opt){
  opt=opt||{};
  const g=mk('g',{},name);
  mk('rect',{x:x,y:y,width:w,height:h,fill:'#fff',stroke:'#000','stroke-width':1.8},name+'-box',g);
  entries.forEach(e=>{
    mk('line',{x1:x+9,x2:x+31,y1:e.y,y2:e.y,stroke:e.c,'stroke-width':2},'legend-line',g);
    const t=text(x+(opt.tx||48),e.y,e.label,'legend-entry',{anchor:'start',size:14},g);
    if(e.italic) t.setAttribute('font-style','italic');
  });
  return g;
}

(function(){
  const A=tsAxes(1305,-8,8,'b-gse-axes');
  polyline(A,[TMIN,TMAX],[0,0],'#000','zero-line',1.2,'8,6');
  polyline(A,gseBxT,gseBx,'#ff0000','series-bx');
  polyline(A,gseByT,gseBy,'#008000','series-by');
  polyline(A,gseBzT,gseBz,'#0000ff','series-bz');
  const yt=range(-8,8,2);
  finishAxes(A,timeTickMinutes,timeTickLabels,yt,yt.map(v=>fmtNum(v,0)));
  title(900,1287,'Magnetic Field (GSE Frame)','b-gse-title');
  text(63,1400,'B(nT)','b-gse-y-title',{rot:-90});
  legend(1604,1312,72,71,[{y:1325,c:'#ff0000',label:'Bx'},{y:1347,c:'#008000',label:'By'},{y:1370,c:'#0000ff',label:'Bz'}],'b-gse-legend',{tx:44});
})();

(function(){
  const A=tsAxes(1589,-8,8,'b-fr-axes');
  polyline(A,[TMIN,TMAX],[0,0],'#000','zero-line',1.2,'8,6');
  polyline(A,frBxT,frBx,'#ff0000','series-bx-prime');
  polyline(A,frByT,frBy,'#008000','series-by-prime');
  polyline(A,frBzT,frBz,'#0000ff','series-bz-prime');
  polyline(A,frBmagT,frBmag,'#000','series-bmag');
  const yt=range(-8,8,2);
  finishAxes(A,timeTickMinutes,timeTickLabels,yt,yt.map(v=>fmtNum(v,0)));
  title(900,1569,'Magnetic Field (Flux Rope Frame)','b-fr-title');
  text(63,1684,'B(nT)','b-fr-y-title',{rot:-90});
  legend(1601,1595,75,95,[{y:1609,c:'#ff0000',label:"Bx'"},{y:1631,c:'#008000',label:"By'"},{y:1653,c:'#0000ff',label:"Bz'"},{y:1676,c:'#000',label:'|B|'}],'b-fr-legend',{tx:44});
})();

// matplotlib jet
function interp(pts,v){
  for(let i=1;i<pts.length;i++){ if(v<=pts[i][0]){const a=pts[i-1],b=pts[i];return a[1]+(b[1]-a[1])*(v-a[0])/(b[0]-a[0]);} }
  return pts[pts.length-1][1];
}
const JR=[[0,0],[0.35,0],[0.66,1],[0.89,1],[1,0.5]];
const JG=[[0,0],[0.125,0],[0.375,1],[0.64,1],[0.91,0],[1,0]];
const JB=[[0,0.5],[0.11,1],[0.34,1],[0.65,0],[1,0]];
function jet(v){
  v=Math.max(0,Math.min(1,v));
  return 'rgb('+Math.round(interp(JR,v)*255)+','+Math.round(interp(JG,v)*255)+','+Math.round(interp(JB,v)*255)+')';
}
(function(){
  const A=tsAxes(1872,0,180,'pad-axes');
  padRows.forEach((row,j)=>{
    const top=180-6*j;
    for(let i=0;i<row.length;i++){
      const ch=row[i];
      if(ch==='.') continue;
      const lg=padLevelLog[+ch];
      const x0=A.sx(i), x1=A.sx(i+1), y0=A.sy(top), y1=A.sy(top-6);
      mk('rect',{x:x0.toFixed(2),y:y0.toFixed(2),width:(x1-x0+0.4).toFixed(2),height:(y1-y0+0.4).toFixed(2),fill:jet((lg+31)/5)},'pad-cell',A.plot);
    }
  });
  finishAxes(A,timeTickMinutes,timeTickLabels,[0,60,120,180],['0','60','120','180']);
  title(900,1854,'Suprathermal Electrons Pitch Angle Distribution (94.02eV)','pad-title');
  text(55,1966,'pitch angle (deg)','pad-y-title',{rot:-90});
  const cb=mk('g',{},'pad-colorbar');
  const defs=mk('defs',{},'colorbar-defs',cb);
  const grad=mk('linearGradient',{id:'jetgrad',x1:0,y1:1,x2:0,y2:0},'colorbar-gradient',defs);
  for(let k=0;k<=40;k++){mk('stop',{offset:(k/40),'stop-color':jet(k/40)},'gradient-stop',grad);}
  mk('rect',{x:1691,y:1872,width:11,height:189,fill:'url(#jetgrad)',stroke:'#000','stroke-width':1.5},'colorbar',cb);
  cbarTickLabels.forEach((s,k)=>{
    const y=1872+k*189/5;
    const t=text(1712,y,'10','colorbar-tick-label',{anchor:'start',size:17},cb);
    const sp=document.createElementNS(NS,'tspan'); sp.setAttribute('font-size','11'); sp.setAttribute('dy','-7'); sp.textContent=s; t.appendChild(sp);
    for(let m=2;m<10&&k<5;m++){
      const ym=y+189/5-Math.log10(m)*189/5;
      mk('line',{x1:1698,x2:1702,y1:ym,y2:ym,stroke:'#000','stroke-width':1},'colorbar-minor-tick',cb);
    }
  });
})();

(function(){
  const A=tsAxes(2156,-500,100,'vsw-axes');
  polyline(A,vxT,vx,'#ff0000','series-vx');
  polyline(A,vyT,vy,'#008000','series-vy');
  polyline(A,vzT,vz,'#0000ff','series-vz');
  const yt=range(-500,100,100);
  finishAxes(A,timeTickMinutes,timeTickLabels,yt,yt.map(v=>fmtNum(v,0)));
  title(900,2137,'Solar Wind Velocity (GSE Frame)','vsw-title');
  text(42,2250,'Vsw(km/s)','vsw-y-title',{rot:-90});
  legend(1605,2163,71,72,[{y:2176,c:'#ff0000',label:'Vx'},{y:2198,c:'#008000',label:'Vy'},{y:2220,c:'#0000ff',label:'Vz'}],'vsw-legend',{tx:46});
})();

(function(){
  const A=tsAxes(2439,0,5,'beta-axes');
  const mins=betaTotal.map((v,i)=>i);
  polyline(A,mins,betaTotal,'#008000','series-beta');
  polyline(A,mins,betaProton,'#0000ff','series-beta-p');
  const yt=range(0,5,1);
  finishAxes(A,timeTickMinutes,timeTickLabels,yt,yt.map(v=>fmtNum(v,0)));
  title(900,2420,'Plasma Beta','beta-title');
  const yl=text(75,2533,'','beta-y-title',{rot:-90,size:15});
  const a=document.createElementNS(NS,'tspan'); a.setAttribute('font-style','italic'); a.textContent='\u03b2'; yl.appendChild(a);
  const b=document.createElementNS(NS,'tspan'); b.setAttribute('font-style','italic'); b.setAttribute('font-size','10'); b.setAttribute('dy','3'); b.textContent='p'; yl.appendChild(b);
  const c=document.createElementNS(NS,'tspan'); c.setAttribute('dy','-3'); c.textContent=' and '; yl.appendChild(c);
  const d=document.createElementNS(NS,'tspan'); d.setAttribute('font-style','italic'); d.textContent='\u03b2'; yl.appendChild(d);
  legend(1608,2445,68,58,[{y:2460,c:'#0000ff',label:'\u03b2p',italic:true},{y:2487,c:'#008000',label:'\u03b2',italic:true}],'beta-legend',{tx:46});
})();

(function(){
  const A=tsAxes(2723,0,30,'density-axes');
  polyline(A,npT,np,'#0000ff','series-np');
  const yt=range(0,30,5);
  finishAxes(A,timeTickMinutes,timeTickLabels,yt,yt.map(v=>fmtNum(v,0)));
  title(900,2704,'Proton Number Density','density-title');
  text(67,2818,'Np(#/cc)','density-y-title',{rot:-90});
})();

(function(){
  const A=tsAxes(3005,0,0.5,'temperature-axes');
  const mins=tp.map((v,i)=>i);
  polyline(A,mins,tp,'#0000ff','series-tp');
  polyline(A,mins,teTp.map(v=>v/10),'#ff0000','series-te-tp');
  const yt=range(0,0.5,0.1);
  finishAxes(A,timeTickMinutes,timeTickLabels,yt,yt.map(v=>v.toFixed(1)),{noRightTicks:true});
  const rt=range(0,5,1);
  rt.forEach(v=>{
    const y=A.sy(v/10);
    mk('line',{x1:1683,x2:1677,y1:y,y2:y,stroke:'#000','stroke-width':1.2},'right-y-tick',A.g);
    text(1691,y,String(v),'right-y-tick-label',{anchor:'start',fill:'#ff0000'},A.g);
  });
  const tt=title(900,2987,'Proton Temperature and ','temperature-title');
  const t1=document.createElementNS(NS,'tspan'); t1.setAttribute('font-style','italic'); t1.setAttribute('font-family','Liberation Serif, serif'); t1.textContent='T'; tt.appendChild(t1);
  const t2=document.createElementNS(NS,'tspan'); t2.setAttribute('font-size','13'); t2.setAttribute('font-style','italic'); t2.setAttribute('dy','5'); t2.textContent='e'; tt.appendChild(t2);
  const t3=document.createElementNS(NS,'tspan'); t3.setAttribute('dy','-5'); t3.setAttribute('font-style','italic'); t3.setAttribute('font-family','Liberation Serif, serif'); t3.textContent='/T'; tt.appendChild(t3);
  const t4=document.createElementNS(NS,'tspan'); t4.setAttribute('font-size','13'); t4.setAttribute('font-style','italic'); t4.setAttribute('dy','5'); t4.textContent='p'; tt.appendChild(t4);
  text(57,3100,'Tp(10\u2076K)','temperature-y-title',{rot:-90});
  text(1722,3100,'Te/Tp','te-tp-y-title',{rot:-90,fill:'#ff0000',italic:true,size:15});
  legend(123,3012,72,29,[{y:3026,c:'#0000ff',label:'Tp'}],'tp-legend',{tx:45});
  legend(1587,3012,89,33,[{y:3028,c:'#ff0000',label:'Te/Tp',italic:true}],'te-tp-legend',{tx:48});
})();
</script>
</body></html>
